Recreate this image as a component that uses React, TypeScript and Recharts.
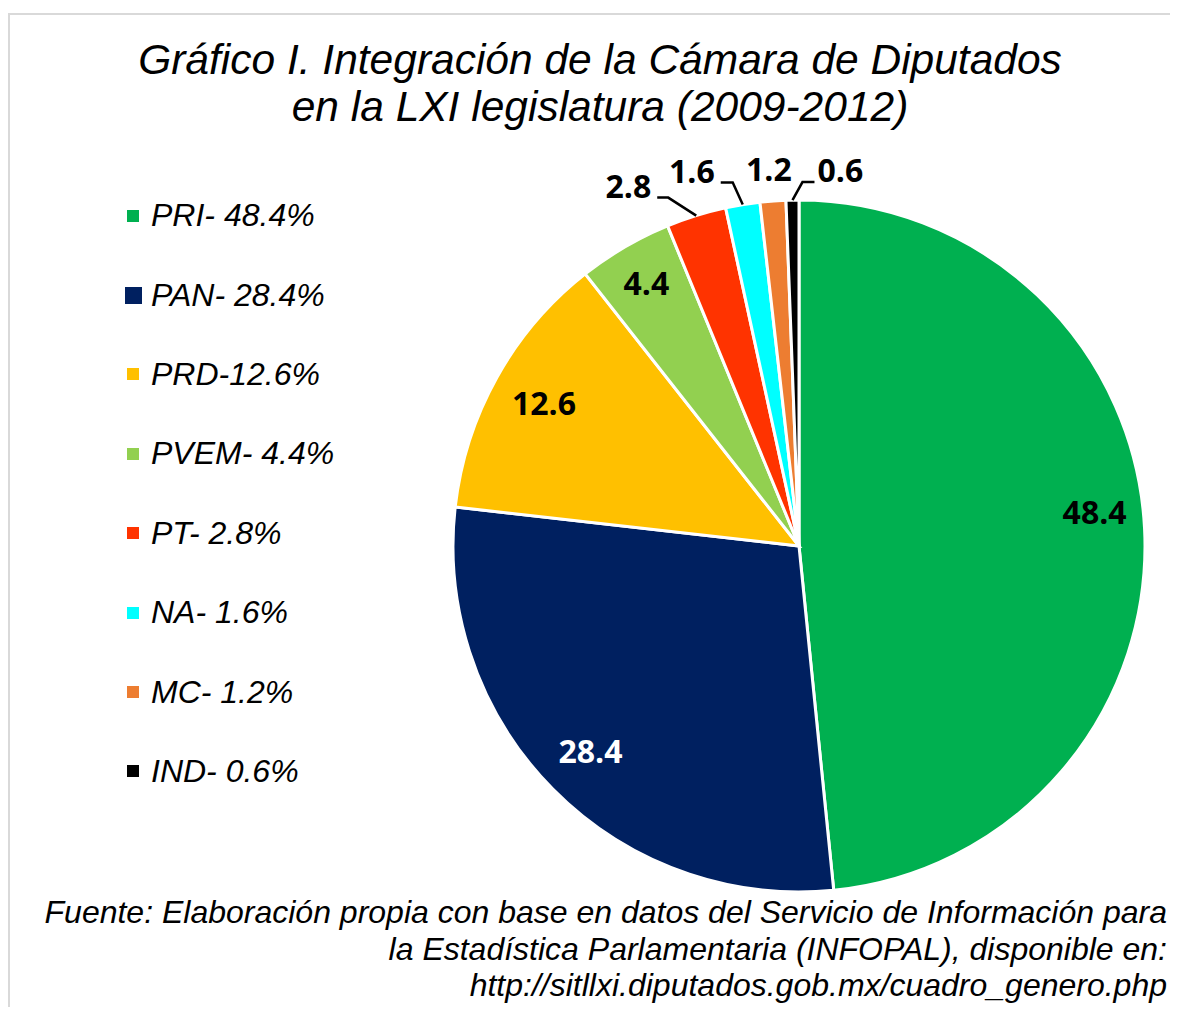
import { Cell, Legend, Pie, PieChart } from "recharts";

const parties = ["PRI", "PAN", "PRD", "PVEM", "PT", "NA", "MC", "IND"];
const shares = [48.4, 28.4, 12.6, 4.4, 2.8, 1.6, 1.2, 0.6];
const legendLabels = [
  "PRI- 48.4%",
  "PAN- 28.4%",
  "PRD-12.6%",
  "PVEM- 4.4%",
  "PT- 2.8%",
  "NA- 1.6%",
  "MC- 1.2%",
  "IND- 0.6%",
];
const colors = [
  "#00b050",
  "#002060",
  "#ffc000",
  "#92d050",
  "#ff3300",
  "#00ffff",
  "#ed7d31",
  "#000000",
];

const titleLines = [
  "Gráfico I. Integración de la Cámara de Diputados",
  "en la LXI legislatura (2009-2012)",
];
const sourceLines = [
  "Fuente: Elaboración propia con base en datos del Servicio de Información para",
  "la Estadística Parlamentaria (INFOPAL), disponible en:",
  "http://sitllxi.diputados.gob.mx/cuadro_genero.php",
];

const data = parties.map((name, i) => ({
  name,
  value: shares[i],
  fill: colors[i],
  legend: legendLabels[i],
}));

// label placement per slice (style only)
const labelSpecs: any[] = [
  { mode: "inside", r: 296, dy: -18, color: "#000" },
  { mode: "inside", r: 293, dy: 0, color: "#fff" },
  { mode: "inside", r: 292, dy: 0, color: "#000" },
  { mode: "inside", r: 303, dy: 0, color: "#000" },
  { mode: "leader", ex: -28, ey: -18, h: -11 },
  { mode: "leader", ex: -10, ey: -22, h: -12 },
  { mode: "above", ey: -20 },
  { mode: "leader", ex: 10, ey: -18, h: 12 },
];
const markerSizes = [12, 17, 12, 12, 12, 12, 12, 12];

const RAD = Math.PI / 180;
const labelFont = '"Open Sans", "DejaVu Sans", sans-serif';

function renderLabel(props: any) {
  const { cx, cy, midAngle, outerRadius, index, value } = props;
  const spec = labelSpecs[index];
  const cos = Math.cos(-midAngle * RAD);
  const sin = Math.sin(-midAngle * RAD);
  const common = {
    fontFamily: labelFont,
    fontWeight: 700,
    fontSize: 32,
  };
  if (spec.mode === "inside") {
    const x = cx + spec.r * cos;
    const y = cy + spec.r * sin + spec.dy;
    return (
      <text x={x} y={y + 11} textAnchor="middle" fill={spec.color} {...common}>
        {value}
      </text>
    );
  }
  const ex0 = cx + outerRadius * cos;
  const ey0 = cy + outerRadius * sin;
  if (spec.mode === "above") {
    return (
      <text x={ex0 - 4} y={ey0 + spec.ey} textAnchor="middle" fill="#000" {...common}>
        {value}
      </text>
    );
  }
  const bx = ex0 + spec.ex;
  const by = ey0 + spec.ey;
  const hx = bx + spec.h;
  const right = spec.h > 0;
  return (
    <g>
      <polyline
        points={`${ex0},${ey0} ${bx},${by} ${hx},${by}`}
        fill="none"
        stroke="#000"
        strokeWidth={2.5}
      />
      <text
        x={hx + (right ? 3 : -6)}
        y={by}
        textAnchor={right ? "start" : "end"}
        fill="#000"
        {...common}
      >
        {value}
      </text>
    </g>
  );
}

function LegendBox(props: any) {
  const payload = [...(props.payload || [])].sort(
    (a: any, b: any) => parties.indexOf(a.value) - parties.indexOf(b.value)
  );
  return (
    <div>
      {payload.map((entry: any) => {
        const i = parties.indexOf(entry.value);
        return (
          <div
            key={entry.value}
            style={{ display: "flex", alignItems: "center", height: 79.4 }}
          >
            <div
              style={{
                width: 24,
                display: "flex",
                justifyContent: "center",
              }}
            >
              <div
                style={{
                  width: markerSizes[i],
                  height: markerSizes[i],
                  background: entry.color,
                }}
              />
            </div>
            <span
              style={{
                marginLeft: 6,
                fontFamily: '"Liberation Sans", Arial, sans-serif',
                fontStyle: "italic",
                fontSize: 32,
                color: "#000",
                whiteSpace: "nowrap",
              }}
            >
              {entry.payload?.legend ?? legendLabels[i]}
            </span>
          </div>
        );
      })}
    </div>
  );
}

export default function App() {
  return (
    <div
      style={{
        position: "relative",
        marginLeft: -8,
        marginTop: -8,
        width: 1178,
        height: 1007,
        overflow: "hidden",
        fontFamily: '"Liberation Sans", Arial, sans-serif',
      }}
    >
      <div
        style={{
          position: "absolute",
          left: 8,
          top: 13,
          width: 1170,
          height: 1002,
          borderTop: "2px solid #d9d9d9",
          borderLeft: "2px solid #d9d9d9",
          boxSizing: "border-box",
          pointerEvents: "none",
        }}
      />
      <div
        style={{
          position: "absolute",
          left: 0,
          top: 36,
          width: 1200,
          textAlign: "center",
          fontStyle: "italic",
          fontSize: 42.5,
          lineHeight: "47px",
          color: "#000",
        }}
      >
        {titleLines.map((t) => (
          <div key={t}>{t}</div>
        ))}
      </div>
      <div style={{ position: "absolute", left: 0, top: 0 }}>
        <PieChart width={1178} height={1007} margin={{ top: 0, right: 0, bottom: 0, left: 0 }}>
          <Pie
            data={data}
            dataKey="value"
            nameKey="name"
            cx={799}
            cy={546}
            outerRadius={346}
            startAngle={90}
            endAngle={-270}
            stroke="#ffffff"
            strokeWidth={3}
            label={renderLabel}
            labelLine={false}
            isAnimationActive={false}
          >
            {data.map((d) => (
              <Cell key={d.name} fill={d.fill} />
            ))}
          </Pie>
          <Legend
            layout="horizontal"
            verticalAlign="middle"
            align="center"
            content={<LegendBox />}
            wrapperStyle={{ left: 121, top: 176, width: 300, height: 640 }}
          />
        </PieChart>
      </div>
      <div
        style={{
          position: "absolute",
          right: 11,
          top: 894,
          textAlign: "right",
          fontStyle: "italic",
          fontSize: 32,
          lineHeight: "36.5px",
          color: "#000",
          whiteSpace: "nowrap",
        }}
      >
        {sourceLines.map((t) => (
          <div key={t}>{t}</div>
        ))}
      </div>
    </div>
  );
}
